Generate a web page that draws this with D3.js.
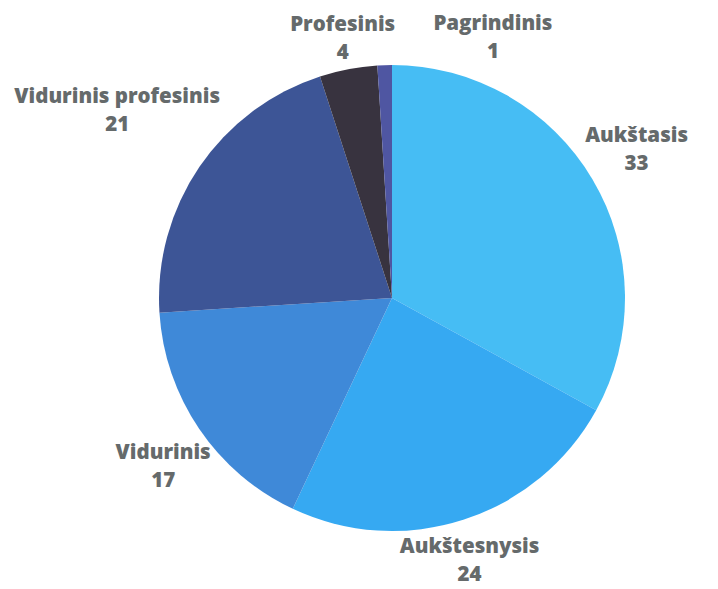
<!DOCTYPE html>
<html>
<head>
<meta charset="utf-8">
<script src="https://cdn.jsdelivr.net/npm/d3@7"></script>
<style>
  body { margin: 0; background: #fff; }
  text { font-family: "Open Sans", "Noto Sans", sans-serif; font-weight: 800; fill: #656a6b; }
</style>
</head>
<body>
<svg id="chart"></svg>
<script>
const width = 718, height = 589;

// išsilavinimas
const categories = ["Aukštasis", "Aukštesnysis", "Vidurinis", "Vidurinis profesinis", "Profesinis", "Pagrindinis"];
const values = [33, 24, 17, 21, 4, 1];
const colors = ["#46bdf4", "#36a9f2", "#3f89d8", "#3d5596", "#38333f", "#4f56a2"];

// nudges so labels do not run into each other
const labelNudge = {
    "Aukštasis": [-5, 0],
    "Aukštesnysis": [-12, -13],
    "Vidurinis": [11, 6],
    "Vidurinis profesinis": [-35, -24],
    "Profesinis": [5, 26],
    "Pagrindinis": [110, 30]
};

const cx = 392, cy = 298, radius = 233;

const svg = d3.select("#chart")
    .attr("width", width)
    .attr("height", height);

const g = svg.append("g").attr("transform", `translate(${cx},${cy})`);

const data = categories.map((c, i) => ({ name: c, value: values[i], color: colors[i] }));

const pie = d3.pie().sort(null).value(d => d.value);
const arc = d3.arc().innerRadius(0).outerRadius(radius);
const labelArc = d3.arc().innerRadius(290).outerRadius(290);

const arcs = pie(data);

g.selectAll(".slice")
    .data(arcs)
    .enter().append("path")
    .attr("class", "slice")
    .attr("d", arc)
    .attr("fill", d => d.data.color);

const labels = g.selectAll(".label")
    .data(arcs)
    .enter().append("g")
    .attr("class", "label")
    .attr("transform", d => {
        const p = labelArc.centroid(d);
        const n = labelNudge[d.data.name] || [0, 0];
        return `translate(${p[0] + n[0]},${p[1] + n[1]})`;
    });

labels.append("text")
    .attr("text-anchor", "middle")
    .attr("y", -8)
    .attr("font-size", 20.5)
    .text(d => d.data.name);

labels.append("text")
    .attr("text-anchor", "middle")
    .attr("y", 20)
    .attr("font-size", 20.5)
    .text(d => d.data.value);
</script>
</body>
</html>
